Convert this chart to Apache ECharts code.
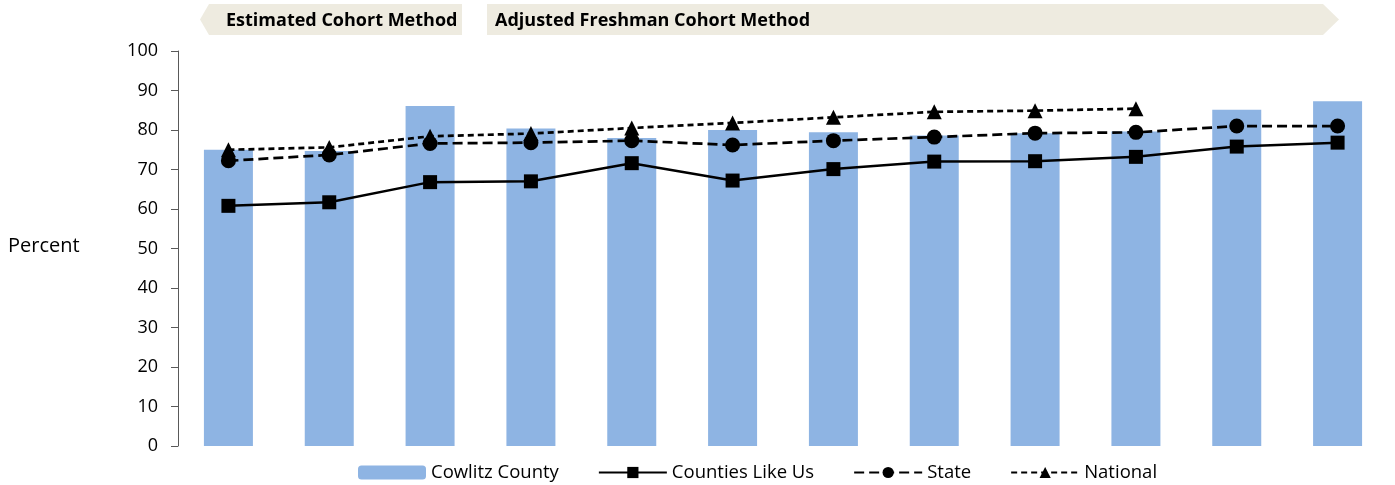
<!DOCTYPE html>
<html>
<head>
<meta charset="utf-8">
<script src="https://cdn.jsdelivr.net/npm/echarts@6/dist/echarts.min.js"></script>
<style>
  html, body { margin: 0; padding: 0; background: #fff; }
  #main { width: 1395px; height: 485px; }
</style>
</head>
<body>
<div id="main"></div>
<script>
var years = ['1', '2', '3', '4', '5', '6', '7', '8', '9', '10', '11', '12'];
var cowlitz = [75.0, 74.7, 86.1, 80.4, 78.0, 80.0, 79.4, 78.6, 79.2, 79.6, 85.1, 87.3];
var countiesLikeUs = [60.8, 61.7, 66.8, 67.0, 71.6, 67.2, 70.1, 72.0, 72.1, 73.2, 75.8, 76.8];
var state = [72.2, 73.7, 76.6, 76.8, 77.3, 76.2, 77.3, 78.2, 79.2, 79.4, 81.0, 81.0];
var national = [75.0, 75.6, 78.4, 79.1, 80.5, 81.8, 83.2, 84.6, 84.9, 85.4, null, null];

var font = 'Open Sans';
var dom = document.getElementById('main');
var myChart = echarts.init(dom, null, { renderer: 'canvas' });

var option = {
    animation: false,
    textStyle: { fontFamily: font },
    grid: { left: 178, right: 7, top: 51, bottom: 39, containLabel: false },
    legend: {
        top: 458,
        left: 353,
        itemWidth: 68,
        itemHeight: 14,
        itemGap: 39,
        textStyle: { fontSize: 18.5, color: '#000', fontFamily: font },
        data: ['Cowlitz County', 'Counties Like Us', 'State', 'National']
    },
    xAxis: {
        type: 'category',
        data: years,
        axisLine: { show: false },
        axisTick: { show: false },
        axisLabel: { show: false }
    },
    yAxis: {
        type: 'value',
        min: 0,
        max: 100,
        interval: 10,
        axisLine: { show: true, lineStyle: { color: '#595959', width: 1 } },
        axisTick: { show: true, length: 7, lineStyle: { color: '#595959' } },
        axisLabel: { fontSize: 18, color: '#000', margin: 20 },
        splitLine: { show: false }
    },
    graphic: [
        {
            type: 'polygon',
            shape: { points: [[200, 19.5], [209, 4], [462, 4], [462, 35], [209, 35]] },
            style: { fill: '#EEEBE0' }
        },
        {
            type: 'polygon',
            shape: { points: [[487, 4], [1323, 4], [1339, 19.5], [1323, 35], [487, 35]] },
            style: { fill: '#EEEBE0' }
        },
        {
            type: 'text',
            x: 226, y: 21,
            style: { text: 'Estimated Cohort Method', font: 'bold 18px "Open Sans"', fill: '#000', verticalAlign: 'middle' }
        },
        {
            type: 'text',
            x: 495, y: 21,
            style: { text: 'Adjusted Freshman Cohort Method', font: 'bold 18px "Open Sans"', fill: '#000', verticalAlign: 'middle' }
        },
        {
            type: 'text',
            x: 8, y: 246,
            style: { text: 'Percent', font: '20px "Open Sans"', fill: '#000', verticalAlign: 'middle' }
        }
    ],
    series: [
        {
            name: 'Cowlitz County',
            type: 'bar',
            barWidth: 49,
            itemStyle: { color: '#8EB4E3' },
            data: cowlitz
        },
        {
            name: 'Counties Like Us',
            type: 'line',
            symbol: 'rect',
            symbolSize: 14,
            itemStyle: { color: '#000' },
            lineStyle: { color: '#000', width: 2.5 },
            data: countiesLikeUs
        },
        {
            name: 'State',
            type: 'line',
            symbol: 'circle',
            symbolSize: 15,
            itemStyle: { color: '#000' },
            lineStyle: { color: '#000', width: 2.7, type: [10, 5] },
            data: state
        },
        {
            name: 'National',
            type: 'line',
            symbol: 'triangle',
            symbolSize: 15,
            itemStyle: { color: '#000' },
            lineStyle: { color: '#000', width: 2.7, type: [6, 4] },
            data: national
        }
    ]
};

myChart.setOption(option);
</script>
</body>
</html>
